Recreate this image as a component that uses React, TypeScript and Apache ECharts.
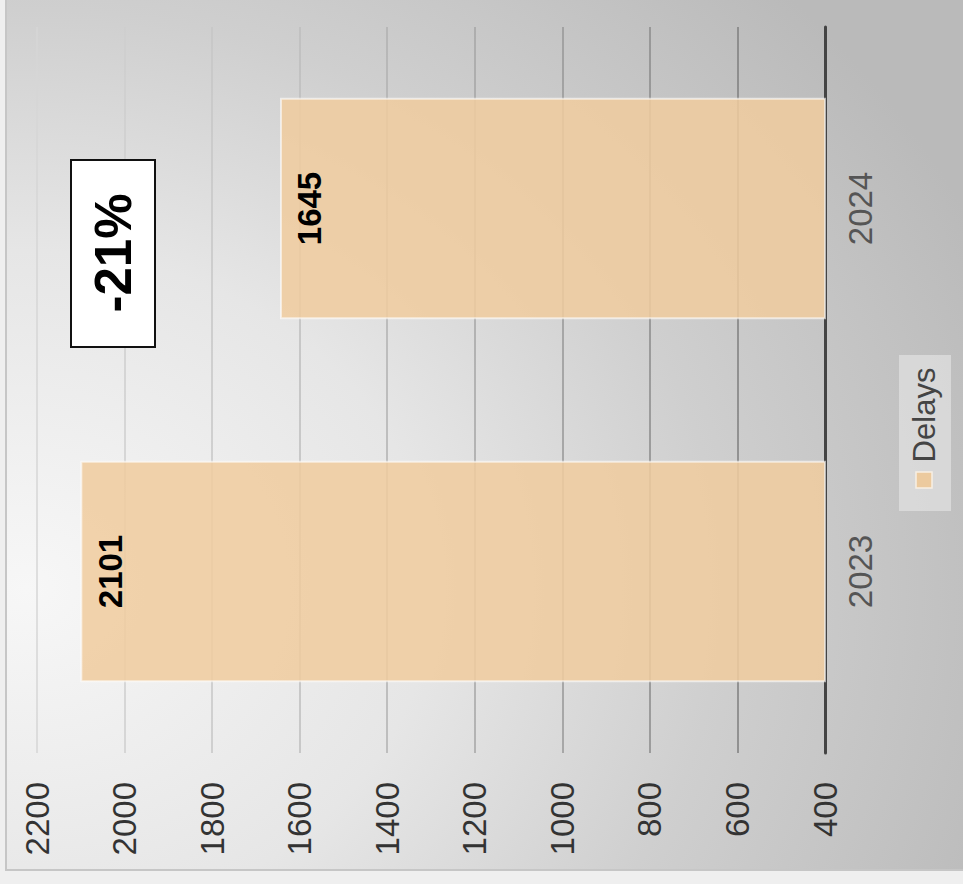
import React, { useEffect, useRef } from "react";
import * as echarts from "echarts";

const categories = ["2023", "2024"];
const delays = [2101, 1645];
const seriesName = "Delays";
const changeLabel = "-21%";
const valueMin = 400;
const valueMax = 2200;
const valueInterval = 200;

const FONT = "'Liberation Sans', Arial, sans-serif";
const BAR_COLOR = "rgba(240,204,158,0.86)";

export default function App() {
  const ref = useRef<HTMLDivElement>(null);

  useEffect(() => {
    if (!ref.current) return;
    const chart = echarts.init(ref.current, undefined, { renderer: "svg" });
    chart.setOption({
      animation: false,
      textStyle: { fontFamily: FONT },
      grid: { left: 37, right: 138, top: 27, bottom: 131, containLabel: false },
      xAxis: {
        type: "value",
        inverse: true,
        min: valueMin,
        max: valueMax,
        interval: valueInterval,
        axisLine: { show: false },
        axisTick: { show: false },
        axisLabel: {
          rotate: 90,
          fontSize: 33,
          color: "#333",
          margin: 29,
          fontFamily: FONT,
          formatter: (v: number) => String(v),
        },
        splitLine: {
          show: true,
          lineStyle: {
            width: 1.5,
            color: ["#555", "#7e7e7e", "#8a8a8a", "#969696", "#a4a4a4", "#b0b0b0", "#bcbcbc", "#c6c6c6", "#cecece", "#d6d6d6"],
          },
        },
      },
      yAxis: {
        type: "category",
        position: "right",
        data: categories,
        axisLine: { show: true, lineStyle: { color: "#444", width: 3 } },
        axisTick: { show: false },
        axisLabel: { rotate: 90, fontSize: 33, color: "#555", margin: 19, fontFamily: FONT },
        splitLine: { show: false },
      },
      series: [
        {
          name: seriesName,
          type: "bar",
          data: delays,
          barCategoryGap: "39%",
          itemStyle: { color: BAR_COLOR, borderColor: "rgba(255,255,255,0.6)", borderWidth: 2 },
          label: {
            show: true,
            position: "insideLeft",
            distance: 30,
            rotate: 90,
            align: "center",
            verticalAlign: "middle",
            fontSize: 33,
            fontWeight: "bold",
            color: "#000",
            fontFamily: FONT,
          },
        },
      ],
      graphic: [
        {
          type: "group",
          children: [
            {
              type: "rect",
              shape: { x: 71, y: 160, width: 84, height: 187 },
              style: { fill: "#fff", stroke: "#111", lineWidth: 2 },
              z: 100,
            },
            {
              type: "text",
              x: 113,
              y: 253,
              rotation: Math.PI / 2,
              style: {
                text: changeLabel,
                fill: "#000",
                font: `bold 51px ${FONT}`,
                align: "center",
                verticalAlign: "middle",
              },
              z: 101,
            },
          ],
        },
        {
          type: "group",
          children: [
            {
              type: "rect",
              shape: { x: 899, y: 355, width: 52, height: 156 },
              style: { fill: "rgba(235,235,235,0.55)" },
              z: 100,
            },
            {
              type: "rect",
              shape: { x: 916, y: 472, width: 16, height: 16 },
              style: { fill: "#ecca9e", stroke: "#f8efe4", lineWidth: 1.5 },
              z: 101,
            },
            {
              type: "text",
              x: 924,
              y: 415,
              rotation: Math.PI / 2,
              style: {
                text: seriesName,
                fill: "#444",
                font: `31px ${FONT}`,
                align: "center",
                verticalAlign: "middle",
              },
              z: 101,
            },
          ],
        },
      ],
    });
    return () => chart.dispose();
  }, []);

  return (
    <div style={{ position: "absolute", left: 0, top: 0, width: 963, height: 884, background: "#efefef", overflow: "hidden" }}>
      <div
        style={{
          position: "absolute",
          left: 5,
          top: -10,
          width: 966,
          height: 877,
          border: "2px solid #c6c6c6",
          background: "radial-gradient(ellipse 120% 110% at 2% 68%, #f7f7f7 0%, #e6e6e6 35%, #cfcfcf 60%, #bababa 90%)",
        }}
      />
      <div ref={ref} style={{ position: "absolute", left: 0, top: 0, width: 963, height: 884 }} />
    </div>
  );
}
